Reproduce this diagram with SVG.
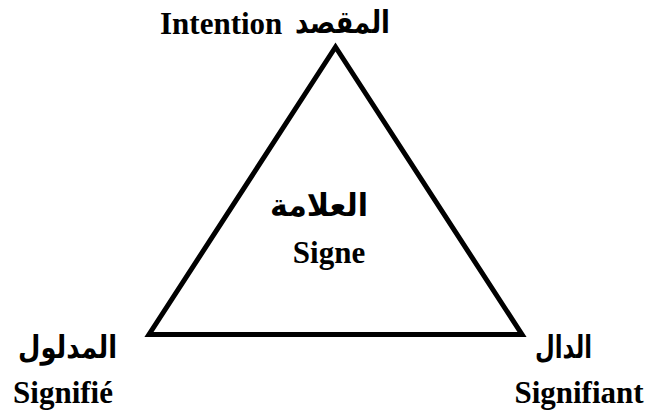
<svg xmlns="http://www.w3.org/2000/svg" width="646" height="416" viewBox="0 0 646 416">
<style>
.lat{font-family:"Liberation Serif","Times New Roman",serif;font-weight:bold;font-size:31px;fill:#000}
.ar{font-family:"DejaVu Sans","Noto Sans",sans-serif;font-weight:bold;font-size:31px;fill:#000}
</style>
<rect width="646" height="416" fill="#fff"/>
<g id="connectors">
<polygon points="335.5,47 149,334.5 522,334.5" fill="none" stroke="#000" stroke-width="5" stroke-linejoin="miter"/>
</g>
<g id="intention">
<text class="lat" x="160" y="34">Intention</text>
<text class="ar" x="295" y="33" textLength="95" lengthAdjust="spacingAndGlyphs">المقصد</text>
</g>
<g id="signe">
<text class="ar" x="270" y="216" textLength="98" lengthAdjust="spacingAndGlyphs">العلامة</text>
<text class="lat" x="329" y="263" text-anchor="middle">Signe</text>
</g>
<g id="signifie">
<text class="ar" x="18" y="358" textLength="99" lengthAdjust="spacingAndGlyphs">المدلول</text>
<text class="lat" x="63" y="403" text-anchor="middle">Signifié</text>
</g>
<g id="signifiant">
<text class="ar" x="535" y="358" textLength="57" lengthAdjust="spacingAndGlyphs">الدال</text>
<text class="lat" x="579" y="403" text-anchor="middle">Signifiant</text>
</g>
</svg>
